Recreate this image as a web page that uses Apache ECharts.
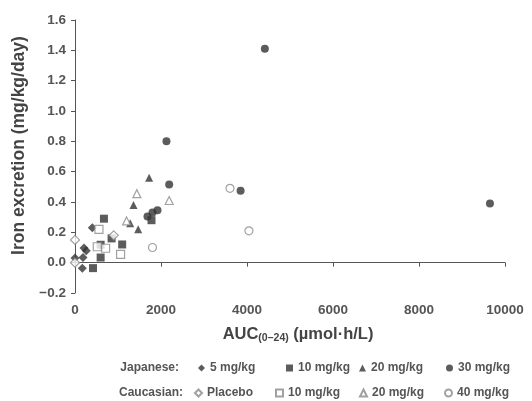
<!DOCTYPE html>
<html>
<head>
<meta charset="utf-8">
<script src="https://cdn.jsdelivr.net/npm/echarts@6/dist/echarts.min.js"></script>
<style>
  html, body { margin: 0; padding: 0; background: #fff; }
  #chart { width: 532px; height: 401px; }
</style>
</head>
<body>
<div id="chart"></div>
<script>
// [AUC(0-24), iron excretion]
const jp5 = [[0, 0.03], [170, -0.036], [186, 0.034], [209, 0.096], [262, 0.078], [402, 0.23]];
const jp10 = [[418, -0.036], [596, 0.034], [596, 0.118], [673, 0.29], [851, 0.16], [1097, 0.12], [1779, 0.28]];
const jp20 = [[1283, 0.26], [1361, 0.38], [1469, 0.22], [1724, 0.56]];
const jp30 = [[1686, 0.305], [1802, 0.33], [1918, 0.345], [2127, 0.80], [2190, 0.515], [3851, 0.475], [4415, 1.41], [9650, 0.39]];
const caPlacebo = [[0, 0.15], [0, 0.0], [900, 0.18]];
const ca10 = [[518, 0.105], [557, 0.22], [712, 0.095], [1060, 0.055]];
const ca20 = [[1200, 0.275], [1439, 0.455], [2190, 0.41]];
const ca40 = [[1802, 0.10], [3604, 0.49], [4045, 0.21]];

const xTicks = [0, 2000, 4000, 6000, 8000, 10000];
const yTicks = [-0.2, 0.0, 0.2, 0.4, 0.6, 0.8, 1.0, 1.2, 1.4, 1.6];

const dark = '#333';
const light = '#8a8a8a';
const font = 'Liberation Sans';

function filled(name, symbol, data, size) {
    return {
        name: name, type: 'scatter', symbol: symbol, symbolSize: size || 8, data: data,
        itemStyle: { color: dark }
    };
}
function open(name, symbol, data, size) {
    return {
        name: name, type: 'scatter', symbol: symbol, symbolSize: size || 8, data: data,
        itemStyle: { color: '#fff', borderColor: light, borderWidth: 1.2 }
    };
}

const chart = echarts.init(document.getElementById('chart'), null, { renderer: 'canvas' });

const legendText = { fontFamily: font, fontSize: 12, fontWeight: 'bold', color: '#555' };

// one legend box per entry so each lines up with the reference columns
const legendSlots = [
    ['Japanese 5 mg/kg', 198, 370], ['Japanese 10 mg/kg', 286, 370],
    ['Japanese 20 mg/kg', 359, 370], ['Japanese 30 mg/kg', 446, 370],
    ['Caucasian Placebo', 194, 395], ['Caucasian 10 mg/kg', 275, 395],
    ['Caucasian 20 mg/kg', 359, 395], ['Caucasian 40 mg/kg', 444, 395]
];

const option = {
    animation: false,
    grid: { left: 75, right: 27, top: 20, bottom: 108 },
    xAxis: {
        type: 'value', min: 0, max: 10000, interval: 2000,
        name: 'AUC{sub|(0–24)} (µmol·h/L)',
        nameLocation: 'middle', nameGap: 32,
        nameTextStyle: {
            fontFamily: font, fontSize: 16.5, fontWeight: 'bold', color: '#444',
            padding: [0, 0, 0, 16],
            rich: { sub: { fontFamily: font, fontSize: 10.5, fontWeight: 'bold', color: '#444', verticalAlign: 'bottom', padding: [8, 0, 0, 0] } }
        },
        axisLine: { show: true, lineStyle: { color: '#555', width: 1 } },
        axisTick: { show: true, length: 4, lineStyle: { color: '#555' } },
        axisLabel: {
            fontFamily: font, fontSize: 13.5, fontWeight: 'bold', color: '#555', margin: 10,
            formatter: v => xTicks.includes(v) ? String(v) : ''
        },
        splitLine: { show: false }
    },
    yAxis: {
        type: 'value', min: -0.2, max: 1.6, interval: 0.2,
        name: 'Iron excretion (mg/kg/day)',
        nameLocation: 'middle', nameGap: 42,
        nameTextStyle: {
            fontFamily: font, fontSize: 17.5, fontWeight: 'bold', color: '#444',
            padding: [0, 0, 0, 22]
        },
        axisLine: { show: true, lineStyle: { color: '#555', width: 1 } },
        axisTick: { show: true, length: 4, lineStyle: { color: '#555' } },
        axisLabel: {
            fontFamily: font, fontSize: 13.5, fontWeight: 'bold', color: '#555', margin: 9,
            formatter: v => {
                const t = yTicks.find(k => Math.abs(k - v) < 1e-9);
                if (t === undefined) return '';
                return t < 0 ? '\u2212' + Math.abs(t).toFixed(1) : t.toFixed(1);
            }
        },
        splitLine: { show: false }
    },
    legend: legendSlots.map(([name, left, cy]) => ({
        data: [name], left: left, top: cy - 8, padding: 0,
        itemWidth: 7, itemHeight: 7,
        textStyle: legendText,
        formatter: n => n.replace(/^(Japanese|Caucasian) /, '')
    })),
    graphic: [
        { type: 'text', right: 532 - 179, top: 362, style: { text: 'Japanese:', font: 'bold 12px "Liberation Sans"', fill: '#555' } },
        { type: 'text', right: 532 - 183, top: 387, style: { text: 'Caucasian:', font: 'bold 12px "Liberation Sans"', fill: '#555' } }
    ],
    series: [
        filled('Japanese 5 mg/kg', 'diamond', jp5, 9),
        filled('Japanese 10 mg/kg', 'rect', jp10, 8),
        filled('Japanese 20 mg/kg', 'triangle', jp20, 8),
        filled('Japanese 30 mg/kg', 'circle', jp30, 8),
        open('Caucasian Placebo', 'diamond', caPlacebo, 9),
        open('Caucasian 10 mg/kg', 'rect', ca10, 8),
        open('Caucasian 20 mg/kg', 'triangle', ca20, 8),
        open('Caucasian 40 mg/kg', 'circle', ca40, 8)
    ]
};

chart.setOption(option);
window.addEventListener('resize', chart.resize);
</script>
</body>
</html>
